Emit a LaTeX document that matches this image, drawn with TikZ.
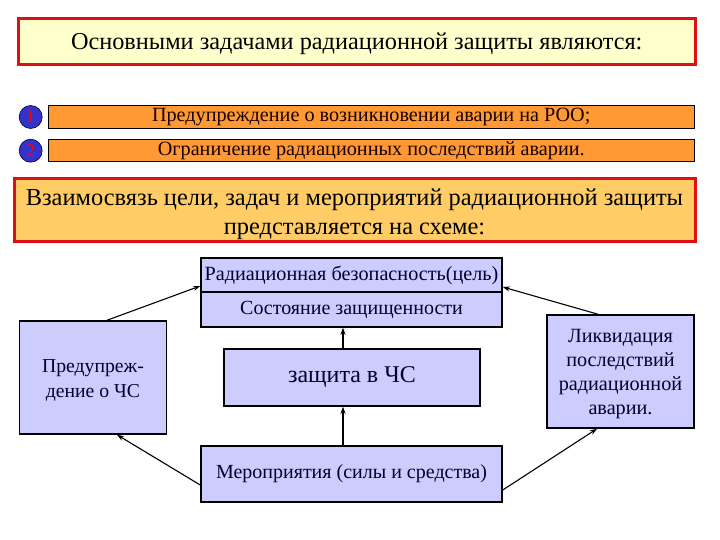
\documentclass[tikz,border=0pt]{standalone}
\usepackage{fontspec}
\setmainfont{Liberation Serif}
\usetikzlibrary{arrows.meta}
\definecolor{titlefill}{HTML}{FFFFCC}
\definecolor{redline}{HTML}{DD1111}
\definecolor{barfill}{HTML}{FF9933}
\definecolor{bigfill}{HTML}{FFCC66}
\definecolor{boxfill}{HTML}{CCCCFF}
\definecolor{circfill}{HTML}{3333CC}
\definecolor{txtnavy}{HTML}{000033}
\tikzset{
  redbox/.style={draw=redline, line width=3pt, inner sep=0pt, align=center},
  barbox/.style={draw=black, line width=0.9pt, fill=barfill, inner sep=0pt,
    minimum width=645.5pt, minimum height=22.5pt, font=\fontsize{20.2}{22}\selectfont, text=black!90!red},
  numcirc/.style={circle, draw=txtnavy, line width=0.6pt, fill=circfill, minimum size=23pt, inner sep=0pt,
    text=red, font=\fontsize{18}{20}\selectfont},
  bluebox/.style={draw=black, line width=1.5pt, fill=boxfill, inner sep=0pt, align=center, text=txtnavy},
  inlabel/.style={align=center, inner sep=0pt},
  conn/.style={line width=1.1pt, -{Stealth[length=7pt,width=5pt]}}
}
\begin{document}
\begin{tikzpicture}[x=1pt,y=-1pt]
\useasboundingbox (0,0) rectangle (720,540);
\fill[white] (0,0) rectangle (720,540);
% title
\node[redbox, fill=titlefill, minimum width=676.5pt, minimum height=46pt,
  label={[inlabel, yshift=-2pt, font=\fontsize{24.3}{28}\selectfont]center:{Основными задачами радиационной защиты являются:}}]
  (title) at (356.75,42) {};
% bars
\node[numcirc] (c1) at (30.7,117) {1};
\node[numcirc] (c2) at (30.7,150.7) {2};
\node[barbox] (b1) at (371.25,117) {Предупреждение о возникновении аварии на РОО;};
\node[barbox] (b2) at (371.25,150.5) {Ограничение радиационных последствий аварии.};
% big box
\node[redbox, fill=bigfill, minimum width=681pt, minimum height=62pt,
  label={[inlabel, yshift=-4pt, font=\fontsize{24.4}{29}\selectfont]center:{Взаимосвязь цели, задач и мероприятий радиационной защиты\\представляется на схеме:}}]
  (big) at (354.5,210) {};
% diagram
\node[bluebox, minimum width=301pt, minimum height=34pt, font=\fontsize{20.2}{23}\selectfont]
  (goal) at (351.5,275) {Радиационная безопасность(цель)};
\node[bluebox, minimum width=301pt, minimum height=35pt, font=\fontsize{20}{23}\selectfont]
  (state) at (351.5,309.5) {Состояние защищенности};
\node[bluebox, minimum width=256pt, minimum height=57pt, font=\fontsize{24}{27}\selectfont]
  (prot) at (352,377.5) {защита в ЧС};
\node[bluebox, minimum width=301pt, minimum height=56pt, font=\fontsize{20}{23}\selectfont]
  (meas) at (351.5,474) {Мероприятия (силы и средства)};
\node[bluebox, minimum width=147pt, minimum height=113pt,
  label={[inlabel, yshift=-3pt, text=txtnavy, font=\fontsize{19.7}{25}\selectfont]center:{Предупреж-\\дение о ЧС}}]
  (warn) at (93,377.5) {};
\node[bluebox, minimum width=147pt, minimum height=113pt,
  label={[inlabel, yshift=-3pt, text=txtnavy, font=\fontsize{20.2}{24}\selectfont]center:{Ликвидация\\последствий\\радиационной\\аварии.}}]
  (liq) at (620.5,371.5) {};
% connectors
\draw[conn] ([xshift=14pt]warn.north) -- ([yshift=-11pt]goal.west);
\draw[conn] ([xshift=-22.5pt]liq.north) -- ([yshift=-12pt]goal.east);
\draw[conn] ([xshift=-9pt]prot.north) -- ([xshift=-8.5pt]state.south);
\draw[conn] ([xshift=-8.5pt]meas.north) -- ([xshift=-9pt]prot.south);
\draw[conn] ([yshift=-11pt]meas.west) -- ([xshift=24pt]warn.south);
\draw[conn] ([yshift=-16pt]meas.east) -- ([xshift=-23.5pt]liq.south);
\end{tikzpicture}
\end{document}
